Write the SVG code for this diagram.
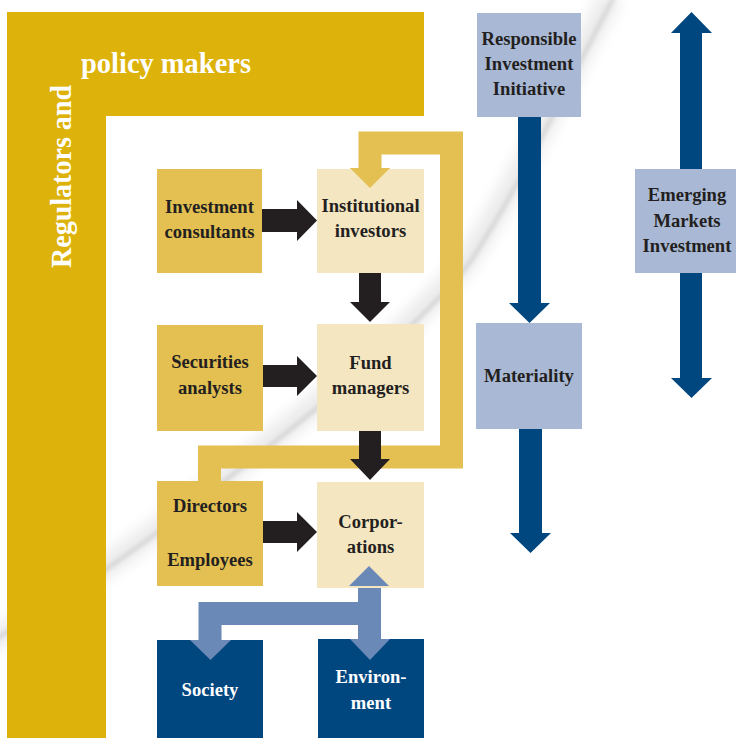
<svg xmlns="http://www.w3.org/2000/svg" width="736" height="738" viewBox="0 0 736 738">
<defs>
<style>
.t{font-family:"Liberation Serif","Times New Roman",serif;font-weight:bold;font-size:18.6px;fill:#231F20;text-anchor:middle}
.w{fill:#FFFFFF}
.big{font-family:"Liberation Serif","Times New Roman",serif;font-weight:bold;font-size:28.5px;fill:#FFFFFF}
.gold{fill:#E4C052}
.pale{fill:#F5E6C2}
.lb{fill:#A9B9D5}
.db{fill:#00467F}
.blk{fill:#231F20}
</style>
<filter id="blur8" x="-20%" y="-20%" width="140%" height="140%"><feGaussianBlur stdDeviation="7"/></filter>
<filter id="blur2" x="-20%" y="-20%" width="140%" height="140%"><feGaussianBlur stdDeviation="2"/></filter>
</defs>
<rect x="0" y="0" width="736" height="738" fill="#FFFFFF"/>
<g id="swoosh" fill="none">
<path d="M-10,642 C60,600 120,560 233,470 C330,395 420,320 467,260 C520,180 560,90 612,-5" stroke="#EBEBEB" stroke-width="22" filter="url(#blur8)"/>
<path d="M-6,640 C60,600 124,562 236,472 C334,397 424,322 470,262 C523,182 563,92 615,-5" stroke="#CCCCCC" stroke-width="3" filter="url(#blur2)"/>
</g>
<g id="regulators">
<path d="M7,12 H424 V116 H106 V738 H7 Z" fill="#DDB20A"/>
<text class="big" x="81" y="73" textLength="170" lengthAdjust="spacingAndGlyphs">policy makers</text>
<text class="big" transform="translate(71,268) rotate(-90)" x="0" y="0" textLength="183" lengthAdjust="spacingAndGlyphs">Regulators and</text>
</g>
<g id="connectors">
<polyline points="209.5,482 209.5,457 451.5,457 451.5,143 370,143 370,168" fill="none" stroke="#E4C052" stroke-width="23" stroke-linejoin="miter"/>
<polygon points="350,168 390,168 370,188" fill="#E4C052"/>
<polygon class="blk" points="262,209 297,209 297,200 317,220.5 297,241 297,232 262,232"/>
<polygon class="blk" points="263,365 297,365 297,356 317,376 297,396 297,387 263,387"/>
<polygon class="blk" points="263,521 297,521 297,512 317,532 297,552 297,543 263,543"/>
<polygon class="blk" points="359,273 381,273 381,302 390,302 370,322 350,302 359,302"/>
<polygon class="blk" points="359,431 381,431 381,459 390,459 370,480 350,459 359,459"/>
<polyline points="210,640 210,613.5 369.5,613.5" fill="none" stroke="#6A89B6" stroke-width="23"/>
<line x1="369.5" y1="586" x2="369.5" y2="640" stroke="#6A89B6" stroke-width="23"/>
<polygon points="349,586 389,586 369,566" fill="#6A89B6"/>
<polygon points="350,640 390,640 370,660" fill="#6A89B6"/>
<polygon points="190,640 231,640 210.5,660" fill="#6A89B6"/>
<polygon class="db" points="518,117 541,117 541,303 550,303 529.5,323 509,303 518,303"/>
<polygon class="db" points="519,429 542,429 542,533 551,533 530.5,553 510,533 519,533"/>
<polygon class="db" points="691.5,12 712,33 702,33 702,169 680,169 680,33 671,33"/>
<polygon class="db" points="680,273 702,273 702,378 712,378 691.5,398 671,378 680,378"/>
</g>
<g id="investment-consultants">
<rect class="gold" x="157" y="169" width="105" height="104"/>
<text class="t" x="209.5" y="213">Investment</text>
<text class="t" x="209.5" y="238">consultants</text>
</g>
<g id="institutional-investors">
<rect class="pale" x="317" y="169" width="107" height="104"/>
<polygon points="350,168 390,168 370,188" fill="#E4C052"/>
<text class="t" x="370.5" y="212">Institutional</text>
<text class="t" x="370.5" y="237">investors</text>
</g>
<g id="securities-analysts">
<rect class="gold" x="157" y="325" width="106" height="106"/>
<text class="t" x="210" y="368">Securities</text>
<text class="t" x="210" y="394">analysts</text>
</g>
<g id="fund-managers">
<rect class="pale" x="317" y="324" width="107" height="107"/>
<text class="t" x="370.5" y="369">Fund</text>
<text class="t" x="370.5" y="394">managers</text>
</g>
<g id="directors-employees">
<rect class="gold" x="157" y="481" width="106" height="105"/>
<text class="t" x="210" y="512">Directors</text>
<text class="t" x="210" y="566">Employees</text>
</g>
<g id="corporations">
<rect class="pale" x="317" y="482" width="107" height="106"/>
<text class="t" x="370.5" y="528">Corpor-</text>
<text class="t" x="370.5" y="553">ations</text>
<polygon points="349,586 389,586 369,566" fill="#6A89B6"/>
</g>
<g id="society">
<rect class="db" x="157" y="640" width="106" height="98"/>
<polygon points="190,640 231,640 210.5,660" fill="#6A89B6"/>
<text class="t w" x="210" y="696">Society</text>
</g>
<g id="environment">
<rect class="db" x="318" y="639" width="106" height="99"/>
<polygon points="350,639 390,639 370,660" fill="#6A89B6"/>
<text class="t w" x="371" y="683">Environ-</text>
<text class="t w" x="371" y="709">ment</text>
</g>
<g id="responsible-investment-initiative">
<rect class="lb" x="477" y="13" width="104" height="104"/>
<text class="t" x="529" y="45">Responsible</text>
<text class="t" x="529" y="70">Investment</text>
<text class="t" x="529" y="95">Initiative</text>
</g>
<g id="materiality">
<rect class="lb" x="476" y="323" width="106" height="106"/>
<text class="t" x="529" y="382">Materiality</text>
</g>
<g id="emerging-markets-investment">
<rect class="lb" x="635" y="169" width="101" height="104"/>
<text class="t" x="687" y="201">Emerging</text>
<text class="t" x="687" y="227">Markets</text>
<text class="t" x="687" y="252">Investment</text>
</g>
</svg>
